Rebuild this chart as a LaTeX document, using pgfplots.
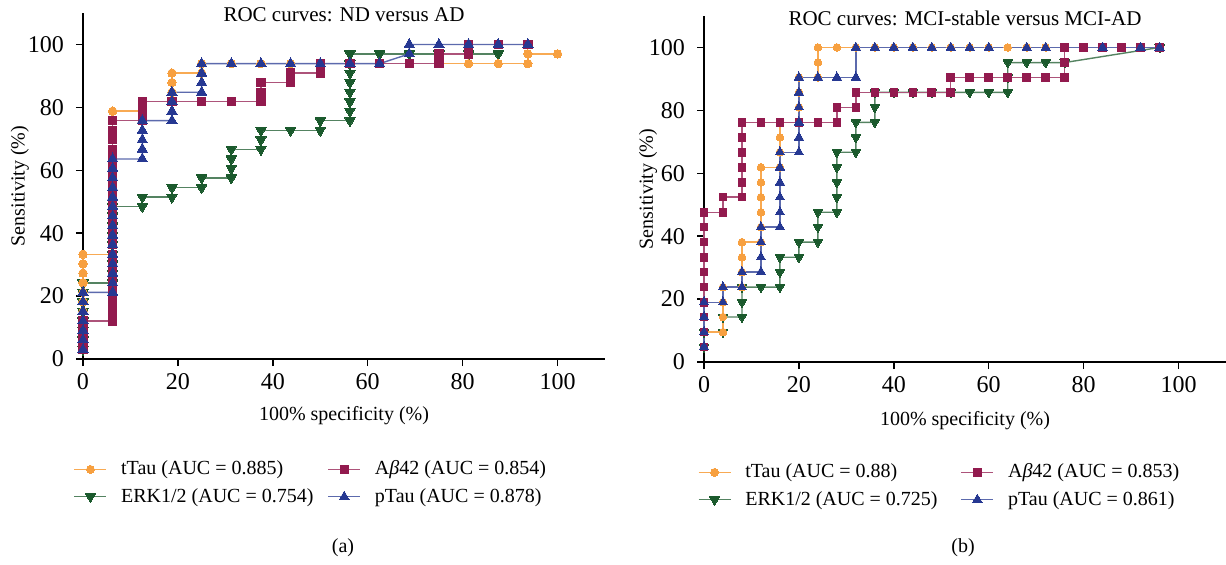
\documentclass[border=0pt]{standalone}
\usepackage{fontspec}
\setmainfont{Liberation Serif}
\usepackage{pgfplots}
\pgfplotsset{compat=1.18}
\definecolor{cOr}{RGB}{247,160,64}
\definecolor{cCr}{RGB}{146,26,78}
\definecolor{cGr}{RGB}{27,90,45}
\definecolor{cBl}{RGB}{38,56,146}
\pgfplotsset{
 rocaxis/.style={
  scale only axis, width=261pt, height=173pt,
  xmin=0,xmax=110,ymin=0,ymax=110,
  axis lines=left, axis line style={-, line width=0.75pt},
  xtick={0,20,...,100}, ytick={0,20,...,100},
  tick align=outside, major tick length=3.5pt,
  tick style={line width=0.75pt, black},
  /pgf/number format/assume math mode=true,
  ticklabel style={font=\fontsize{12}{14}\selectfont},
  yticklabel style={xshift=-2.5pt},
  every axis x label/.style={at={(axis description cs:0.5,-0.165)}, anchor=center, font=\fontsize{10}{12}\selectfont},
  every axis y label/.style={at={(axis description cs:-0.121,0.5)}, rotate=90, anchor=center, font=\fontsize{10}{12}\selectfont},
  every axis title shift=0pt,
  title style={font=\fontsize{10.5}{12}\selectfont, at={(axis description cs:0.5,1)}, anchor=center, yshift=-1pt},
  xlabel={100\% specificity (\%)}, ylabel={Sensitivity (\%)},
  clip=false,
  legend columns=2,
  legend cell align=left,
  legend style={draw=none, fill=none, font=\fontsize{10}{12}\selectfont, anchor=north west,
    /tikz/every odd column/.append style={column sep=5pt}, /tikz/row sep=1.2pt},
  legend image code/.code={\draw[mark repeat=2,mark phase=2] plot coordinates {(0pt,0pt) (8pt,0pt) (16pt,0pt)};},
 },
 sOr/.style={color=cOr!90!white, line width=0.7pt, mark=*, mark size=#1, mark options={fill=cOr, draw=cOr, line width=0pt}},
 sCr/.style={color=cCr!75!white, line width=0.7pt, mark=square*, mark size=#1, mark options={fill=cCr, draw=cCr, line width=0pt}},
 sGr/.style={color=cGr!75!white, line width=0.7pt, mark=triangle*, mark size=#1, mark options={fill=cGr, draw=cGr, line width=0pt, rotate=180}},
 sBl/.style={color=cBl!75!white, line width=0.7pt, mark=triangle*, mark size=#1, mark options={fill=cBl, draw=cBl, line width=0pt}},
}
\begin{document}
\begin{tikzpicture}
\useasboundingbox (0,0) rectangle (613pt,282pt);
% ---------------- panel (a)
\begin{axis}[rocaxis, at={(41.5pt,102.5pt)}, anchor=south west,
  title={ROC curves: ND versus AD},
  legend style={at={(axis description cs:-0.03,-0.27)}, /tikz/every even column/.append style={column sep=5pt}}]
\addlegendimage{sOr=2pt}\addlegendentry{tTau (AUC = 0.885)}
\addlegendimage{sCr=2pt}\addlegendentry{A{\itshape β}42 (AUC = 0.854)}
\addlegendimage{sGr=2.8pt}\addlegendentry{ERK1/2 (AUC = 0.754)}
\addlegendimage{sBl=2.8pt}\addlegendentry{pTau (AUC = 0.878)}
\addplot[sGr=3pt, forget plot] coordinates {(0,3.0)(0,6.1)(0,9.1)(0,12.1)(0,15.2)(0,18.2)(0,21.2)(0,24.2)(6.25,24.2)(6.25,27.3)(6.25,30.3)(6.25,33.3)(6.25,36.4)(6.25,39.4)(6.25,42.4)(6.25,45.5)(6.25,48.5)(12.5,48.5)(12.5,51.5)(18.75,51.5)(18.75,54.5)(25,54.5)(25,57.6)(31.25,57.6)(31.25,60.6)(31.25,63.6)(31.25,66.7)(37.5,66.7)(37.5,69.7)(37.5,72.7)(43.75,72.7)(50,72.7)(50,75.8)(56.25,75.8)(56.25,78.8)(56.25,81.8)(56.25,84.8)(56.25,87.9)(56.25,90.9)(56.25,93.9)(56.25,97.0)(62.5,97.0)(68.75,97.0)(75,97.0)(81.25,97.0)(87.5,97.0)};
\addplot[sOr=2.1pt, forget plot] coordinates {(0,3.0)(0,6.1)(0,9.1)(0,12.1)(0,15.2)(0,18.2)(0,21.2)(0,24.2)(0,27.3)(0,30.3)(0,33.3)(6.25,33.3)(6.25,36.4)(6.25,39.4)(6.25,42.4)(6.25,45.5)(6.25,48.5)(6.25,51.5)(6.25,54.5)(6.25,57.6)(6.25,60.6)(6.25,63.6)(6.25,66.7)(6.25,69.7)(6.25,72.7)(6.25,75.8)(6.25,78.8)(12.5,78.8)(12.5,81.8)(18.75,81.8)(18.75,84.8)(18.75,87.9)(18.75,90.9)(25,90.9)(25,93.9)(31.25,93.9)(37.5,93.9)(43.75,93.9)(50,93.9)(56.25,93.9)(62.5,93.9)(68.75,93.9)(75,93.9)(81.25,93.9)(87.5,93.9)(93.75,93.9)(93.75,97.0)(100,97.0)};
\addplot[sCr=2.1pt, forget plot] coordinates {(0,3.0)(0,6.1)(0,9.1)(0,12.1)(6.25,12.1)(6.25,15.2)(6.25,18.2)(6.25,21.2)(6.25,24.2)(6.25,27.3)(6.25,30.3)(6.25,33.3)(6.25,36.4)(6.25,39.4)(6.25,42.4)(6.25,45.5)(6.25,48.5)(6.25,51.5)(6.25,54.5)(6.25,57.6)(6.25,60.6)(6.25,63.6)(6.25,66.7)(6.25,69.7)(6.25,72.7)(6.25,75.8)(12.5,75.8)(12.5,78.8)(12.5,81.8)(18.75,81.8)(25,81.8)(31.25,81.8)(37.5,81.8)(37.5,84.8)(37.5,87.9)(43.75,87.9)(43.75,90.9)(50,90.9)(50,93.9)(56.25,93.9)(62.5,93.9)(68.75,93.9)(75,93.9)(75,97.0)(81.25,97.0)(81.25,100)(87.5,100)(93.75,100)};
\addplot[sBl=3pt, forget plot] coordinates {(0,3.0)(0,6.1)(0,9.1)(0,12.1)(0,15.2)(0,18.2)(0,21.2)(6.25,21.2)(6.25,24.2)(6.25,27.3)(6.25,30.3)(6.25,33.3)(6.25,36.4)(6.25,39.4)(6.25,42.4)(6.25,45.5)(6.25,48.5)(6.25,51.5)(6.25,54.5)(6.25,57.6)(6.25,60.6)(6.25,63.6)(12.5,63.6)(12.5,66.7)(12.5,69.7)(12.5,72.7)(12.5,75.8)(18.75,75.8)(18.75,78.8)(18.75,81.8)(18.75,84.8)(25,84.8)(25,87.9)(25,90.9)(25,93.9)(31.25,93.9)(37.5,93.9)(43.75,93.9)(50,93.9)(56.25,93.9)(62.5,93.9)(68.75,97.0)(68.75,100)(75,100)(81.25,100)(87.5,100)(93.75,100)};
\end{axis}
% ---------------- panel (b)
\begin{axis}[rocaxis, at={(352pt,101pt)}, anchor=south west,
  title={ROC curves: MCI-stable versus MCI-AD},
  every axis y label/.append style={at={(axis description cs:-0.107,0.5)}},
  every axis x label/.append style={at={(axis description cs:0.5,-0.168)}},
  legend style={at={(axis description cs:-0.024,-0.27)}, /tikz/every even column/.append style={column sep=9.5pt}}]
\addlegendimage{sOr=2pt}\addlegendentry{tTau (AUC = 0.88)}
\addlegendimage{sCr=2pt}\addlegendentry{A{\itshape β}42 (AUC = 0.853)}
\addlegendimage{sGr=2.8pt}\addlegendentry{ERK1/2 (AUC = 0.725)}
\addlegendimage{sBl=2.8pt}\addlegendentry{pTau (AUC = 0.861)}
\addplot[sGr=2.7pt, forget plot] coordinates {(0,4.8)(0,9.5)(4,9.5)(4,14.3)(8,14.3)(8,19.0)(8,23.8)(12,23.8)(16,23.8)(16,28.6)(16,33.3)(20,33.3)(20,38.1)(24,38.1)(24,42.9)(24,47.6)(28,47.6)(28,52.4)(28,57.1)(28,61.9)(28,66.7)(32,66.7)(32,71.4)(32,76.2)(36,76.2)(36,81.0)(36,85.7)(40,85.7)(44,85.7)(48,85.7)(52,85.7)(56,85.7)(60,85.7)(64,85.7)(64,90.5)(64,95.2)(68,95.2)(72,95.2)(76,95.2)(96,100)};
\addplot[sOr=1.9pt, forget plot] coordinates {(0,4.8)(0,9.5)(4,9.5)(4,14.3)(4,19.0)(4,23.8)(8,23.8)(8,28.6)(8,33.3)(8,38.1)(12,38.1)(12,42.9)(12,47.6)(12,52.4)(12,57.1)(12,61.9)(16,61.9)(16,66.7)(16,71.4)(16,76.2)(20,76.2)(20,81.0)(20,85.7)(20,90.5)(24,90.5)(24,95.2)(24,100)(28,100)(32,100)(36,100)(40,100)(44,100)(48,100)(52,100)(56,100)(60,100)(64,100)(68,100)(72,100)};
\addplot[sCr=1.9pt, forget plot] coordinates {(0,4.8)(0,9.5)(0,14.3)(0,19.0)(0,23.8)(0,28.6)(0,33.3)(0,38.1)(0,42.9)(0,47.6)(4,47.6)(4,52.4)(8,52.4)(8,57.1)(8,61.9)(8,66.7)(8,71.4)(8,76.2)(12,76.2)(16,76.2)(20,76.2)(24,76.2)(28,76.2)(28,81.0)(32,81.0)(32,85.7)(36,85.7)(40,85.7)(44,85.7)(48,85.7)(52,85.7)(52,90.5)(56,90.5)(60,90.5)(64,90.5)(68,90.5)(72,90.5)(76,90.5)(76,95.2)(76,100)(80,100)(84,100)(88,100)(92,100)(96,100)};
\addplot[sBl=2.7pt, forget plot] coordinates {(0,4.8)(0,9.5)(0,14.3)(0,19.0)(4,19.0)(4,23.8)(8,23.8)(8,28.6)(12,28.6)(12,33.3)(12,38.1)(12,42.9)(16,42.9)(16,47.6)(16,52.4)(16,57.1)(16,61.9)(16,66.7)(20,66.7)(20,71.4)(20,76.2)(20,81.0)(20,85.7)(20,90.5)(24,90.5)(28,90.5)(32,90.5)(32,100)(36,100)(40,100)(44,100)(48,100)(52,100)(56,100)(60,100)(68,100)(72,100)(84,100)(92,100)(96,100)};
\end{axis}
\node[font=\fontsize{10}{12}\selectfont] at (171.5pt,8pt) {(a)};
\node[font=\fontsize{10}{12}\selectfont] at (481.5pt,8pt) {(b)};
\end{tikzpicture}
\end{document}
